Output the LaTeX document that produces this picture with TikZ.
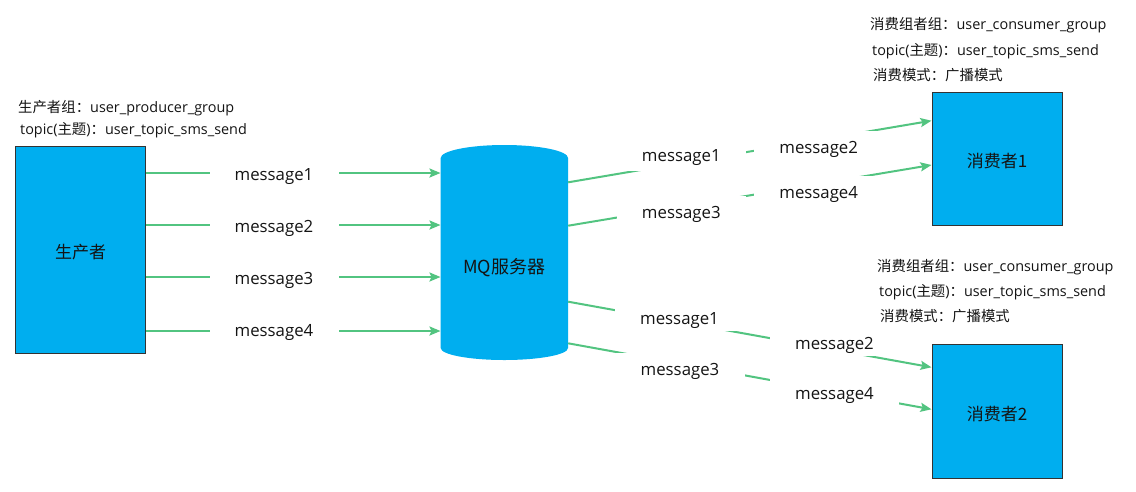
\documentclass[tikz,border=0pt]{standalone}
\usepackage{fontspec}
\setmainfont{Open Sans}
\newfontfamily\cjk{Noto Sans CJK SC}
\usetikzlibrary{arrows.meta}
\definecolor{boxblue}{RGB}{0,174,239}
\definecolor{arrgreen}{RGB}{82,196,128}
\definecolor{edgegray}{RGB}{51,51,51}
\definecolor{txt}{RGB}{20,20,20}
\begin{document}
\begin{tikzpicture}[x=1pt,y=-1pt,
  box/.style={draw=edgegray, line width=1pt, fill=boxblue, minimum width=130pt, inner sep=0pt, text=txt, text height=20pt, text depth=2pt, font=\cjk\fontsize{17}{17}\selectfont},
  msg/.style={fill=white, minimum width=129pt, minimum height=32pt, inner sep=0pt, text=txt, text height=16.8pt, text depth=3.6pt, font=\fontsize{16.8}{17}\selectfont},
  msgl/.style={msg, minimum height=26pt},
  flow/.style={draw=arrgreen, line width=2pt, -{Stealth[length=11pt,width=9pt,inset=2pt]}},
  info/.style={anchor=west, inner sep=0pt, yshift=-2.5pt, text=txt, font=\fontsize{14.4}{15}\selectfont},
]
\useasboundingbox[fill=white] (0,0) rectangle (1136,491);

% boxes
\node[box, minimum height=207pt] (prod) at (80.5,249.5) {生产者};
\node[box, minimum height=133pt] (c1) at (997,158.5) {消费者1};
\node[box, minimum height=134pt] (c2) at (997,411) {消费者2};

% MQ cylinder
\fill[boxblue] (440.7,158) -- (440.7,348)
  arc[start angle=180, end angle=0, x radius=63.65, y radius=12]
  -- (568,158)
  arc[start angle=0, end angle=-180, x radius=63.65, y radius=13] -- cycle;
\node[minimum width=127.3pt, inner sep=0pt, text=txt, font=\cjk\fontsize{18}{18}\selectfont] (mq) at (504.35,267.5) {MQ服务器};

% producer -> MQ
\draw[flow] (prod.east |- 0,173) -- (mq.west |- 0,173);
\draw[flow] (prod.east |- 0,225) -- (mq.west |- 0,225);
\draw[flow] (prod.east |- 0,277) -- (mq.west |- 0,277);
\draw[flow] (prod.east |- 0,331) -- (mq.west |- 0,331);
\node[msg] (l1) at (274,174) {message1};
\node[msg] (l2) at (274,226) {message2};
\node[msg] (l3) at (274,278) {message3};
\node[msg] (l4) at (274,330) {message4};

% MQ -> consumer 1
\draw[flow] (mq.east |- 0,182.3) -- (c1.west |- 0,120.7);
\draw[flow] (mq.east |- 0,225.7) -- (c1.west |- 0,165);
\node[msg] (a1) at (681.3,155) {message1};
\node[msg] (a3) at (681.3,211.7) {message3};
\node[msg] (a2) at (818.7,146.7) {message2};
\node[msg] (a4) at (818.7,191.7) {message4};

% MQ -> consumer 2
\draw[flow] (mq.east |- 0,301.7) -- (c2.west |- 0,367.3);
\draw[flow] (mq.east |- 0,343.3) -- (c2.west |- 0,409.3);
\node[msgl] (b1) at (679.5,317.7) {message1};
\node[msg] (b3) at (680,369) {message3};
\node[msgl] (b2) at (834.5,343.3) {message2};
\node[msg] (b4) at (834.5,392.7) {message4};

% info texts
\node[info] (pi1) at (18,105.7) {{\cjk 生产者组：}user\_producer\_group};
\node[info] (pi2) at (20,127.7) {topic({\cjk 主题}){\cjk ：}user\_topic\_sms\_send};

\node[info] (ci1) at (870,23) {{\cjk 消费组者组：}user\_consumer\_group};
\node[info] (ci2) at (872,49) {topic({\cjk 主题}){\cjk ：}user\_topic\_sms\_send};
\node[info] (ci3) at (873,73) {{\cjk 消费模式：广播模式}};

\node[info] (di1) at (877,265) {{\cjk 消费组者组：}user\_consumer\_group};
\node[info] (di2) at (879,290) {topic({\cjk 主题}){\cjk ：}user\_topic\_sms\_send};
\node[info] (di3) at (880,314) {{\cjk 消费模式：广播模式}};
\end{tikzpicture}
\end{document}
